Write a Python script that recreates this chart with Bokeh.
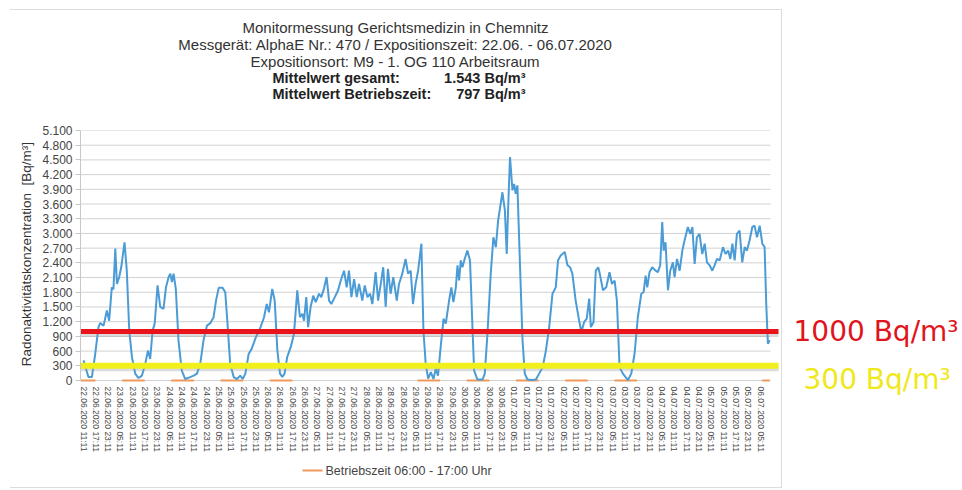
from datetime import datetime, timedelta
from bokeh.plotting import figure
from bokeh.layouts import column
from bokeh.models import Label, FixedTicker
from bokeh.embed import file_html
from bokeh.resources import INLINE

# ---------------- data ----------------
start = datetime(2020, 6, 22, 11, 11)

hours = [0.0, 2.4, 4.1, 5.7, 7.3, 8.1, 9.8, 11.4, 12.5, 13.8, 14.6, 15.5, 16.3, 17.4, 18.4, 20.0,
         21.1, 22.3, 23.6, 25.2, 26.8, 28.5, 30.1, 31.4, 32.5, 33.7, 34.7, 36.1, 37.4, 39.0, 40.2,
         41.5, 42.3, 43.1, 43.9, 45.0, 46.3, 47.9, 49.6, 52.0, 53.7, 55.3, 56.9, 58.5, 60.2, 61.8,
         63.4, 64.6, 65.9, 67.8, 69.1, 70.2, 71.5, 73.2, 74.8, 76.4, 77.6, 78.9, 80.5, 82.0, 84.0,
         86.3, 88.0, 89.3, 90.4, 92.0, 93.2, 94.5, 95.8, 96.9, 98.0, 99.3, 101.0, 102.6, 104.2,
         105.5, 106.7, 107.5, 108.6, 109.5, 110.7, 112.0, 113.2, 114.8, 115.9, 117.2, 118.5, 119.7,
         120.8, 122.5, 124.1, 125.4, 127.0, 128.3, 129.4, 130.6, 131.9, 133.2, 134.3, 135.9, 137.1,
         138.4, 139.7, 140.8, 142.4, 143.6, 144.9, 146.1, 147.3, 148.4, 149.7, 151.0, 152.7, 153.8,
         155.4, 157.0, 158.2, 159.5, 160.6, 161.9, 163.1, 164.7, 165.7, 166.8, 168.0, 169.3, 170.6,
         171.7, 172.8, 174.1, 175.5, 176.6, 178.2, 179.3, 180.3, 181.5, 182.3, 183.1, 183.9, 184.7,
         185.8, 187.1, 188.4, 189.6, 190.4, 192.0, 194.5, 195.6, 196.9, 198.5, 199.8, 201.0, 202.1,
         204.2, 205.4, 206.3, 207.0, 207.9, 209.1, 209.9, 210.7, 211.5, 212.8, 214.0, 215.1, 216.4,
         218.8, 220.5, 222.1, 223.8, 225.4, 227.0, 228.6, 230.2, 231.3, 232.6, 234.6, 235.9, 237.2,
         238.3, 239.9, 241.6, 242.7, 244.0, 245.3, 246.5, 247.3, 248.6, 249.7, 250.9, 251.5, 253.2,
         254.8, 256.4, 257.6, 258.9, 260.0, 261.3, 262.9, 265.4, 267.0, 268.6, 270.2, 271.9, 273.0,
         274.0, 274.8, 275.9, 277.2, 278.9, 280.0, 281.1, 282.1, 282.8, 283.7, 284.9, 286.0, 287.3,
         288.1, 289.3, 290.6, 291.9, 293.0, 294.6, 295.8, 296.8, 297.9, 299.0, 300.3, 301.6, 302.8,
         303.9, 305.2, 306.5, 307.6, 308.8, 310.1, 311.7, 313.0, 314.2, 315.3, 316.3, 317.4, 318.5,
         319.8, 321.1, 322.3, 323.4, 324.7, 326.0, 327.1, 328.3, 329.6, 330.9, 332.0, 332.8, 333.6,
         334.5]

radon = [410, 70, 70, 540, 1090, 1170, 1120, 1430, 1220, 1900, 1860, 2690, 1970, 2110, 2310, 2820,
         2240, 1020, 480, 140, 50, 100, 340, 610, 440, 1020, 1160, 1940, 1500, 1460, 1900,
         2110, 2180, 2010, 2180, 1870, 820, 200, 30, 70, 100, 140, 340, 820, 1120, 1170,
         1290, 1630, 1890, 1890, 1800, 1160, 340, 70, 30, 100, 30, 140, 540, 650, 880,
         1090, 1290, 1560, 1390, 1870, 1630, 610, 140, 70, 140, 480, 680, 950, 1840,
         1290, 1360, 1220, 1700, 1090, 1500, 1730, 1600, 1770, 1700, 1870, 2110, 1630,
         1560, 1700, 1840, 2040, 2240, 1900, 2240, 1700, 2070, 1700, 1970, 1630, 1940,
         1700, 1770, 1560, 2210, 1630, 1970, 2310, 1500, 2280, 1770, 2110, 1630, 1970,
         2180, 2480, 2180, 2240, 1560, 1970, 2240, 2790, 1020, 340, 40, 170, 30,
         240, 100, 680, 1260, 1160, 1630, 1900, 1600, 1900, 2350, 2040, 2450, 2310,
         2480, 2650, 2450, 1090, 200, 20, 20, 140, 950, 2180, 2920, 2720, 3260,
         3840, 3470, 2580, 3540, 4560, 3880, 4010, 3810, 3980, 2310, 820, 140, 20,
         10, 20, 140, 270, 610, 1090, 1770, 1900, 2450, 2550, 2620, 2350, 2310,
         2180, 1630, 1220, 990, 1190, 1260, 1670, 1090, 1190, 2240, 2310, 2210, 1840,
         1900, 2210, 1970, 2040, 1630, 270, 140, 10, 140, 540, 1290, 1770, 1800,
         2140, 1900, 2210, 2310, 2240, 2210, 2350, 3230, 2650, 2820, 1840, 2240, 2410,
         2110, 2480, 2240, 2650, 2860, 3130, 2990, 3130, 2380, 2920, 2990, 2580, 2790,
         2410, 2350, 2240, 2350, 2480, 2450, 2720, 2580, 2650, 2480, 2790, 2450, 2990,
         3060, 2410, 2720, 2650, 2860, 3130, 3160, 2920, 3160, 2790, 2720, 1560, 750,
         820]

business_days = ["22.06.2020", "23.06.2020", "24.06.2020", "25.06.2020", "26.06.2020",
                 "29.06.2020", "30.06.2020", "01.07.2020", "02.07.2020", "03.07.2020",
                 "06.07.2020"]
business_from = "06:00"
business_to = "17:00"
business_level = 0
business_label = "Betriebszeit 06:00 - 17:00 Uhr"

x_ticks = list(range(0, 331, 6))
x_tick_labels = [(start + timedelta(hours=h)).strftime("%d.%m.%Y %H:%M") for h in x_ticks]
y_ticks = list(range(0, 5101, 300))
y_tick_labels = [f"{v:,}".replace(",", ".") for v in y_ticks]

limit_red = 1000
limit_yellow = 300

title_lines = ["Monitormessung Gerichtsmedizin in Chemnitz",
               "Messgerät: AlphaE Nr.: 470 / Expositionszeit: 22.06. - 06.07.2020",
               "Expositionsort: M9 - 1. OG 110 Arbeitsraum"]
mean_labels = ["Mittelwert gesamt:", "Mittelwert Betriebszeit:"]
mean_values = ["1.543 Bq/m³", "797 Bq/m³"]

# ---------------- layout (page pixel geometry) ----------------
W = 962
H_TOP, H_MAIN = 122, 338
H_LEG = 490 - H_TOP - H_MAIN
FL, FR, FT, FB = 80, 962, 130, 396        # main frame edges (page px)
X0_PX, PX_PER_H = 83.0, 677.0 / 330.0     # hour 0 position and scale
Y0_PX, PX_PER_U = 380.0, 250.0 / 5100.0   # value 0 position and scale

XS = (FL - X0_PX) / PX_PER_H
XE = (FR - X0_PX) / PX_PER_H
YS = (Y0_PX - FB) / PX_PER_U
YE = (Y0_PX - FT) / PX_PER_U


def dx(px):
    return (px - X0_PX) / PX_PER_H


def dy(py):
    return (Y0_PX - py) / PX_PER_U


FONT = "Liberation Sans"
ORANGE = "#ef9a5c"


def clear(f):
    f.outline_line_color = None
    f.xgrid.grid_line_color = None
    f.ygrid.grid_line_color = None
    f.background_fill_color = None
    f.border_fill_color = None


def strip(height):
    # frame spans page x FL..FR, so data x == page pixel x
    f = figure(width=W, height=height, output_backend="svg", toolbar_location=None,
               x_range=(FL, FR), y_range=(0, height),
               min_border_left=FL, min_border_right=W - FR, min_border_top=0,
               min_border_bottom=0, x_axis_location=None, y_axis_location=None)
    clear(f)
    return f


# ---------- title strip ----------
pt = strip(H_TOP)
for txt, yref in zip(title_lines, [27, 44, 61]):
    pt.add_layout(Label(x=395, y=H_TOP - yref, text=txt, text_align="center",
                        text_baseline="middle", text_font=FONT, text_font_size="15px",
                        text_color="#333333"))
for lab, val, yref in zip(mean_labels, mean_values, [77, 93]):
    pt.add_layout(Label(x=272, y=H_TOP - yref, text=lab, text_align="left",
                        text_baseline="middle", text_font=FONT, text_font_size="14.5px",
                        text_font_style="bold", text_color="#222222"))
    pt.add_layout(Label(x=525, y=H_TOP - yref, text=val, text_align="right",
                        text_baseline="middle", text_font=FONT, text_font_size="14.5px",
                        text_font_style="bold", text_color="#222222"))

# ---------- main chart ----------
p = figure(width=W, height=H_MAIN, output_backend="svg", toolbar_location=None,
           x_range=(XS, XE), y_range=(YS, YE),
           min_border_left=FL, min_border_top=FT - H_TOP,
           min_border_right=W - FR, min_border_bottom=H_TOP + H_MAIN - FB)
clear(p)

# horizontal grid
p.segment(x0=dx(80), x1=dx(770), y0=y_ticks, y1=y_ticks, line_color="#d2d2d2", line_width=1)

# y axis
p.yaxis.bounds = (y_ticks[0], y_ticks[-1])
p.yaxis.ticker = FixedTicker(ticks=y_ticks)
p.yaxis.major_label_overrides = {t: l for t, l in zip(y_ticks, y_tick_labels)}
p.yaxis.axis_label = "\u00a0" * 5 + "Radonaktivitätskonzentration\u00a0\u00a0[Bq/m³]"
p.yaxis.axis_label_text_font = FONT
p.yaxis.axis_label_text_font_style = "normal"
p.yaxis.axis_label_text_font_size = "13.5px"
p.yaxis.axis_label_text_color = "#333333"
p.yaxis.axis_label_standoff = 5
p.yaxis.major_label_text_font = FONT
p.yaxis.major_label_text_font_size = "12px"
p.yaxis.major_label_text_color = "#444444"
p.yaxis.axis_line_color = "#c8c8c8"
p.yaxis.major_tick_line_color = "#c8c8c8"
p.yaxis.major_tick_out = 5
p.yaxis.major_tick_in = 0
p.yaxis.minor_tick_line_color = None
p.yaxis.major_label_standoff = 3

# x axis
p.xaxis.ticker = FixedTicker(ticks=x_ticks)
p.xaxis.major_label_overrides = {t: l for t, l in zip(x_ticks, x_tick_labels)}
p.xaxis.major_label_orientation = "vertical"
p.xaxis.major_label_text_font = FONT
p.xaxis.major_label_text_font_size = "8.5px"
p.xaxis.major_label_text_color = "#4a4a4a"
p.xaxis.axis_line_color = None
p.xaxis.major_tick_line_color = None
p.xaxis.major_tick_out = 0
p.xaxis.major_tick_in = 0
p.xaxis.minor_tick_line_color = None
p.xaxis.major_label_standoff = -10

# business-time series
seg_x0, seg_x1 = [], []
for d in business_days:
    a = (datetime.strptime(d + " " + business_from, "%d.%m.%Y %H:%M") - start).total_seconds() / 3600
    b = (datetime.strptime(d + " " + business_to, "%d.%m.%Y %H:%M") - start).total_seconds() / 3600
    seg_x0.append(max(a, XS))
    seg_x1.append(min(b, hours[-1]))
p.segment(x0=seg_x0, x1=seg_x1, y0=business_level, y1=business_level,
          line_color=ORANGE, line_width=2)

# radon series
p.line(hours, radon, line_color="#4b9cd6", line_width=2)

# limit lines with a soft shadow
shadow = 3.5 / PX_PER_U
for lvl, col, wdt in [(limit_red, "#e8131b", 5), (limit_yellow, "#f2f01c", 6)]:
    p.segment(x0=dx(80), x1=dx(778), y0=lvl - shadow, y1=lvl - shadow,
              line_color="#9a9a9a", line_alpha=0.35, line_width=4)
    p.segment(x0=dx(80), x1=dx(778), y0=lvl, y1=lvl, line_color=col, line_width=wdt)

# right-hand annotations
p.add_layout(Label(x=dx(793), y=dy(331), text=f"{limit_red} Bq/m³", text_align="left",
                   text_baseline="middle", text_font="DejaVu Sans", text_font_size="28px",
                   text_color="#e0141d"))
p.add_layout(Label(x=dx(803), y=dy(379), text=f"{limit_yellow} Bq/m³", text_align="left",
                   text_baseline="middle", text_font="DejaVu Sans", text_font_size="28px",
                   text_color="#efe81a"))

# ---------- legend strip ----------
pl = strip(H_LEG)
leg_y = H_TOP + H_MAIN + H_LEG - 470
pl.segment(x0=[302], x1=[322], y0=[leg_y], y1=[leg_y], line_color=ORANGE, line_width=2)
pl.add_layout(Label(x=325, y=leg_y, text=business_label, text_align="left",
                    text_baseline="middle", text_font=FONT, text_font_size="12.5px",
                    text_color="#444444"))

# light frame of the original chart picture (top, right and bottom edges)
frame_css = {
    "background-color": "white",
    "background-image": "linear-gradient(#dcdcdc, #dcdcdc), linear-gradient(#dcdcdc, #dcdcdc), "
                        "linear-gradient(#dcdcdc, #dcdcdc)",
    "background-size": "772px 1px, 1px 479px, 772px 1px",
    "background-position": "10px 9px, 781px 9px, 10px 487px",
    "background-repeat": "no-repeat",
}
layout = column(pt, p, pl, styles=frame_css)

open("out.html", "w").write(file_html(layout, INLINE))
